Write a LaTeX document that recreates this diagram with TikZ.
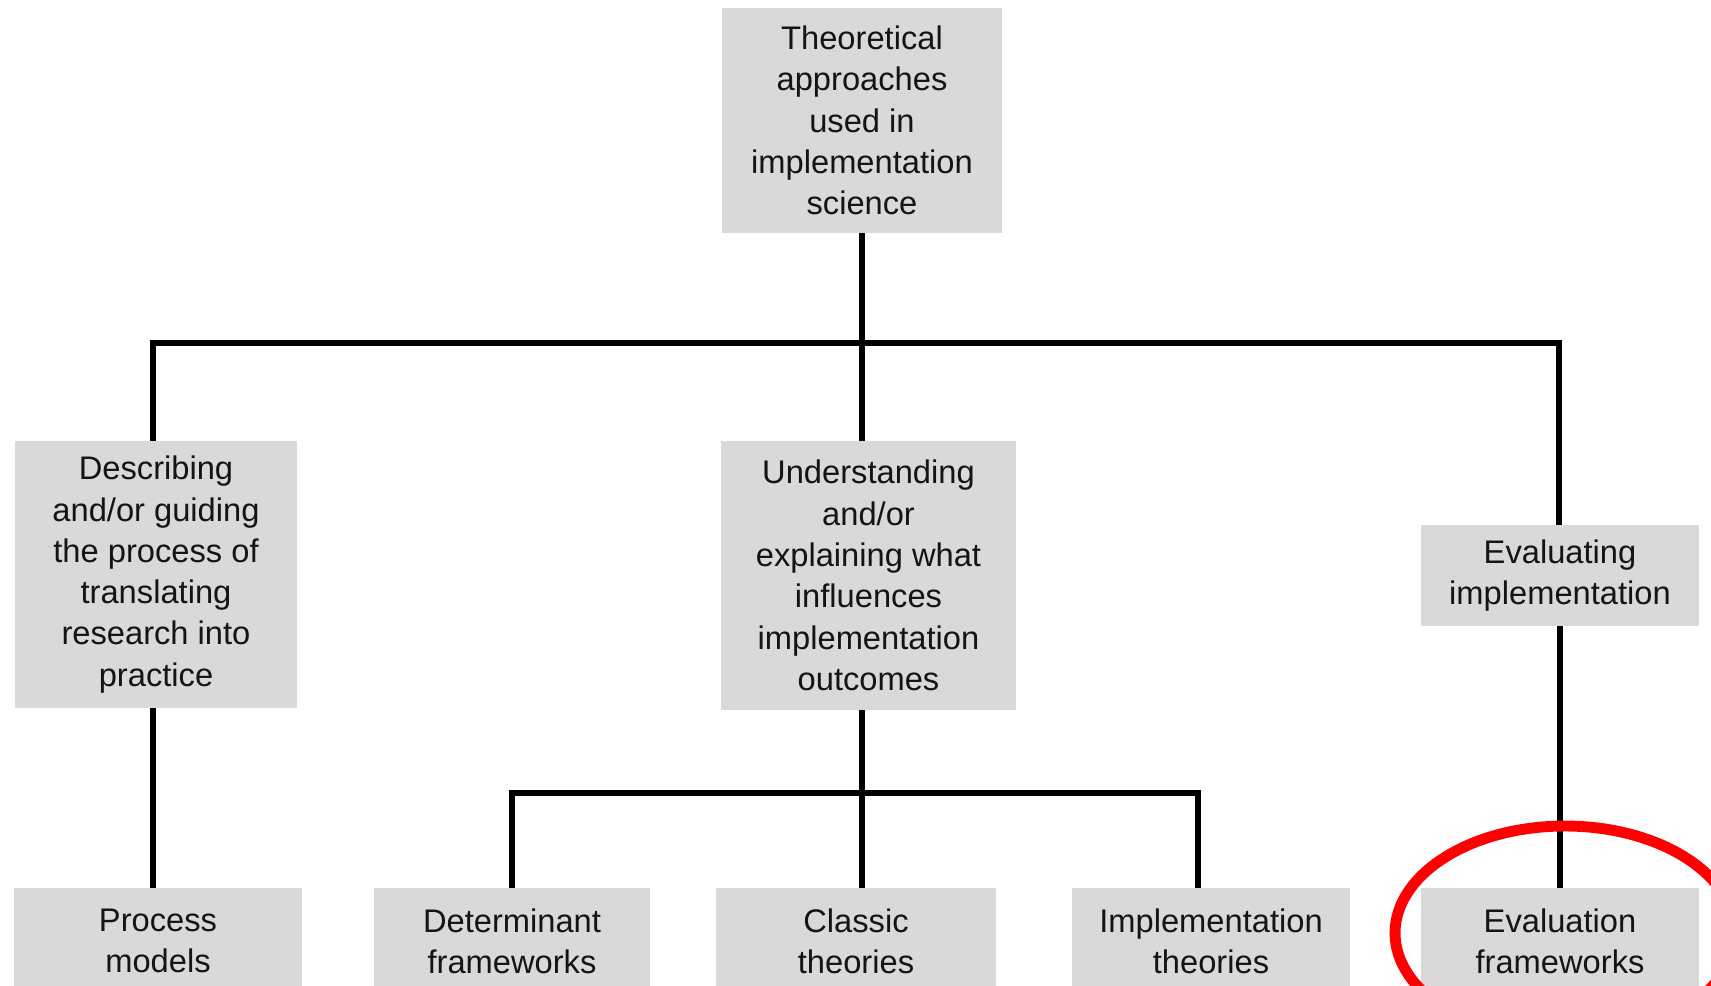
\documentclass[tikz,border=0pt]{standalone}
\usepackage{fontspec}
\setmainfont{Liberation Sans}
\usetikzlibrary{positioning}
\definecolor{boxgray}{HTML}{D9D9D9}
\definecolor{inkgray}{HTML}{141414}

\begin{document}
\begin{tikzpicture}[x=0.02cm, y=-0.02cm,
    box/.style={fill=boxgray, text=inkgray, inner sep=0pt, align=center,
        font=\fontsize{18.6}{23.5}\selectfont},
    link/.style={line width=3.1pt},
    highlight/.style={draw=red, line width=6.2pt}]
    % Canvas
    \path[use as bounding box, clip] (0,0) rectangle (1711,986);

    % Root
    \node[box, minimum width=5.6cm, minimum height=4.5cm] (root) at (862,120.5)
        {Theoretical\\approaches\\used in\\implementation\\science};

    % Aims
    \node[box, minimum width=5.64cm, minimum height=5.34cm] (desc) at (156,574.5)
        {Describing\\and/or guiding\\the process of\\translating\\research into\\practice};
    \node[box, minimum width=5.9cm, minimum height=5.38cm] (und) at (868.5,575.5)
        {Understanding\\and/or\\explaining what\\influences\\implementation\\outcomes};
    \node[box, minimum width=5.56cm, minimum height=2.02cm] (evalimp) at (1560,575.5)
        {Evaluating\\implementation};

    % Categories
    \node[box, minimum width=5.76cm, minimum height=2.12cm] (proc) at (158,941)
        {Process\\models};
    \node[box, minimum width=5.54cm, minimum height=2.12cm] (det) at (512,941)
        {Determinant\\frameworks};
    \node[box, minimum width=5.6cm, minimum height=2.12cm] (cls) at (856,941)
        {Classic\\theories};
    \node[box, minimum width=5.56cm, minimum height=2.12cm] (impl) at (1211,941)
        {Implementation\\theories};
    \node[box, minimum width=5.56cm, minimum height=2.12cm] (evalfw) at (1560,941)
        {Evaluation\\frameworks};

    % Junctions
    \coordinate (jl) at (153,343);
    \coordinate (j1) at (862,343);
    \coordinate (jr) at (1559,343);
    \coordinate (j2) at (862,793);
    \coordinate (j3) at (1198,793);

    % Upper tree
    \draw[link] (root.south) -- (j1);
    \draw[link] (jl |- desc.north) -- (jl) -- (jr) -- (jr |- evalimp.north);
    \draw[link] (j1) -- (j1 |- und.north);

    % Lower tree
    \draw[link] (jl |- desc.south) -- (jl |- proc.north);
    \draw[link] (j2 |- und.south) -- (j2);
    \draw[link] (det.north) |- (j3) -- (j3 |- impl.north);
    \draw[link] (j2) -- (j2 |- cls.north);
    \draw[link] (evalimp.south) -- (evalfw.north);

    % Red ring
    \draw[highlight] (1565,933) ellipse [x radius=3.4cm, y radius=2.14cm];
\end{tikzpicture}
\end{document}
